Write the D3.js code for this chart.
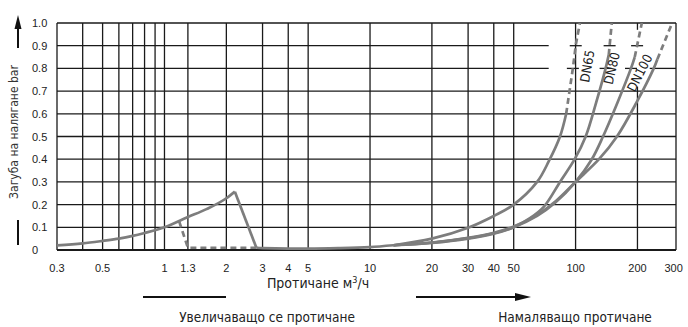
<!DOCTYPE html>
<html><head><meta charset="utf-8">
<script src="https://cdn.jsdelivr.net/npm/d3@7"></script>
<style>body{margin:0;background:#fff}svg{display:block}</style>
</head><body>
<svg id="c" width="688" height="327"></svg>
<script>
// ---- data ----
const xGrid = [0.3,0.4,0.5,0.6,0.7,0.8,0.9,1,1.3,2,3,4,5,10,20,30,40,50,100];
const xTickLabels = [0.3,0.5,1,1.3,2,3,4,5,10,20,30,40,50,100,200,300];
const yTicks = [0,0.1,0.2,0.3,0.4,0.5,0.6,0.7,0.8,0.9,1.0];
const curveLow = [[0.3,0.02],[0.4,0.029],[0.5,0.04],[0.6,0.05],[0.7,0.062],[0.8,0.075],[1,0.1],[1.3,0.145],[1.6,0.18],[2,0.228],[2.2,0.257]];
const curveDrop = [[2.2,0.257],[2.8,0.01]];
const curveFlat = [[2.8,0.01],[3,0.008],[4,0.006],[5,0.006],[7,0.008],[10,0.013],[13,0.021]];
const curveLowDash = [[1.18,0.125],[1.3,0.01],[2.8,0.01]];
const curveA = [[13,0.021],[20,0.05],[30,0.098],[40,0.15],[50,0.2],[65,0.3],[74,0.39],[84,0.5],[90,0.6]];
const curveADash = [[90,0.6],[97,0.8],[100.5,0.91],[105,1.0]];
const curveB = [[13,0.021],[20,0.031],[30,0.05],[40,0.072],[50,0.1],[60,0.14],[70,0.19],[84,0.3],[99,0.4],[112,0.5],[126,0.65],[140,0.8],[145,0.86]];
const curveBDash = [[145,0.86],[150,1.0]];
const curveC = [[13,0.021],[20,0.032],[30,0.052],[40,0.074],[50,0.1],[65,0.15],[80,0.21],[100,0.3],[120,0.4],[136,0.5],[160,0.65],[186,0.8],[194,0.85]];
const curveCDash = [[194,0.85],[210,1.0]];
const curveD = [[13,0.021],[20,0.033],[30,0.054],[40,0.076],[50,0.103],[65,0.155],[80,0.215],[100,0.3],[130,0.4],[159,0.5],[198,0.65],[240,0.8],[250,0.84]];
const curveDDash = [[250,0.84],[295,1.0]];
const labels = [["DN65",114,0.81,-80],["DN80",150,0.8,-77],["DN100",205,0.78,-63]];

const svg = d3.select("#c");
const x = d3.scaleLog().domain([0.3,308]).range([57,676]);
const y = d3.scaleLinear().domain([0,1]).range([250,23]);
const gridCol = "#1a1a1a";
const cc = "#7d7d7d";
const cr = d3.line().x(p=>x(p[0])).y(p=>y(p[1])).curve(d3.curveCatmullRom);
const lin = d3.line().x(d=>x(d[0])).y(d=>y(d[1]));

// helper: x pixel where a curve (list of points) crosses a value, via piecewise interpolation in log-x
function crossX(pts, v){
  for(let i=1;i<pts.length;i++){
    const [q0,a]=pts[i-1],[q1,b]=pts[i];
    if((a-v)*(b-v)<=0 && a!==b){
      const t=(v-a)/(b-a);
      return x(q0)+(x(q1)-x(q0))*t;
    }
  }
  return null;
}
const fullCurves=[curveA.concat(curveADash),curveB.concat(curveBDash),curveC.concat(curveCDash),curveD.concat(curveDDash)];

const g = svg.append("g");
function gl(x1,x2,y1,y2,w){ g.append("line").attr("x1",x1).attr("x2",x2).attr("y1",y1).attr("y2",y2).attr("stroke",gridCol).attr("stroke-width",w||1.3); }
// horizontal gridlines
yTicks.forEach(v=>{
  if(v===0.9||v===0.8){
    gl(x(0.3), x(74), y(v), y(v));
    const n = v===0.9?3:3;
    fullCurves.slice(0,n).forEach(c=>{ const cx=crossX(c,v); gl(cx-6,cx+6,y(v),y(v)); });
    if(v===0.8){ const cx=crossX(fullCurves[3],v); gl(cx-4,x(308),y(v),y(v)); }
  } else {
    gl(x(0.3), x(308), y(v), y(v), v===0?2:1.3);
  }
});
// vertical gridlines
xGrid.forEach(v=>{ gl(x(v),x(v),y(0),y(1)); });
// 200 line with gap behind DN100 label
gl(x(200),x(200),y(0),y(0.72));
gl(x(200),x(200),y(0.97),y(1));
gl(x(308),x(308),y(0),y(1));

function draw(data, dashed, gen){
  svg.append("path").attr("d",gen(data)).attr("fill","none").attr("stroke",cc)
   .attr("stroke-width",2.7).attr("stroke-dasharray",dashed?"6,4":null);
}
draw(curveLow,false,d3.line().x(p=>x(p[0])).y(p=>y(p[1])).curve(d3.curveMonotoneX));
draw(curveDrop,false,lin);
draw(curveFlat,false,d3.line().x(p=>x(p[0])).y(p=>y(p[1])).curve(d3.curveMonotoneX));
draw(curveLowDash,true,lin);
[[curveA,curveADash],[curveB,curveBDash],[curveC,curveCDash],[curveD,curveDDash]].forEach(([s,d])=>{
  draw(s,false,cr);
  draw(d,true,lin);
});

const cf = "'Liberation Sans Narrow','DejaVu Sans Condensed',sans-serif";
// curve labels
labels.forEach(([t,q,v,r])=>{
  svg.append("text").attr("transform",`translate(${x(q)},${y(v)}) rotate(${r})`)
   .attr("text-anchor","middle").attr("dy","0.35em").attr("font-family",cf)
   .attr("font-size",13).attr("fill","#222").text(t);
});

// y tick labels
const tf = "'Liberation Sans',Arial,sans-serif";
yTicks.forEach(v=>{
  svg.append("text").attr("x",32).attr("y",y(v)+4).attr("font-family",tf).attr("font-size",11)
   .attr("fill","#222").text(v===0?"0":v.toFixed(1));
});
// x tick labels
xTickLabels.forEach(v=>{
  svg.append("text").attr("x",x(v)).attr("y",272).attr("text-anchor","middle").attr("font-family",tf)
   .attr("font-size",11).attr("fill","#222").text(String(v));
});
// y axis title
svg.append("text").attr("transform","translate(18,132) rotate(-90)").attr("text-anchor","middle")
 .attr("font-family",cf).attr("font-size",12).attr("fill","#333").text("Загуба на налягане bar");
// arrow up
svg.append("line").attr("x1",18).attr("x2",18).attr("y1",48).attr("y2",26).attr("stroke","#111").attr("stroke-width",2);
svg.append("path").attr("d","M18,15 L14.5,29 L21.5,29 Z").attr("fill","#111");
svg.append("line").attr("x1",18).attr("x2",18).attr("y1",220).attr("y2",245).attr("stroke","#111").attr("stroke-width",2);
// x title
const xt = svg.append("text").attr("x",318).attr("y",288).attr("text-anchor","middle").attr("font-family",cf)
 .attr("font-size",14).attr("fill","#222");
xt.append("tspan").text("Протичане м");
xt.append("tspan").attr("dy",-5).attr("font-size",9).text("3");
xt.append("tspan").attr("dy",5).text("/ч");
// bottom lines
svg.append("line").attr("x1",143).attr("x2",226).attr("y1",297).attr("y2",297).attr("stroke","#111").attr("stroke-width",2);
svg.append("line").attr("x1",416).attr("x2",518).attr("y1",297).attr("y2",297).attr("stroke","#111").attr("stroke-width",2);
svg.append("path").attr("d","M531,297 L515,293 L515,301 Z").attr("fill","#111");
svg.append("text").attr("x",267).attr("y",322).attr("text-anchor","middle").attr("font-family",cf)
 .attr("font-size",13.5).attr("fill","#222").text("Увеличаващо се протичане");
svg.append("text").attr("x",575).attr("y",322).attr("text-anchor","middle").attr("font-family",cf)
 .attr("font-size",13.5).attr("fill","#222").text("Намаляващо протичане");
</script>
</body></html>
